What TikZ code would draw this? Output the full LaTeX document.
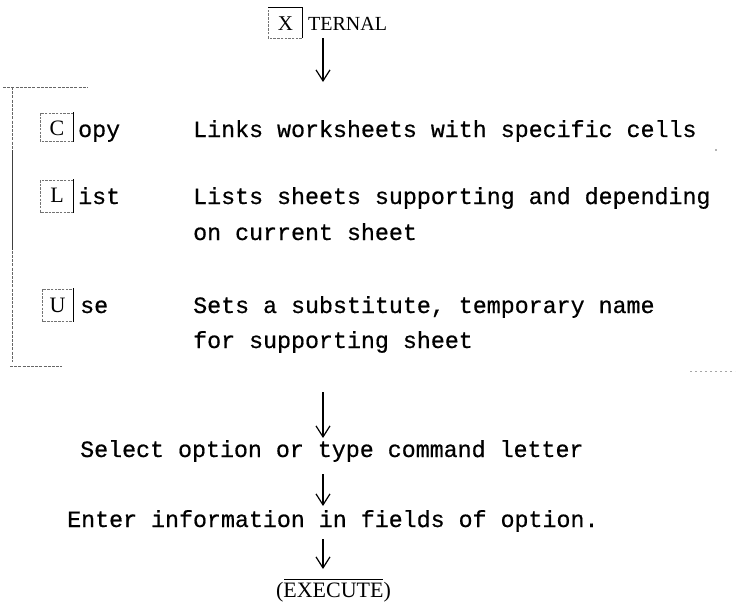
\documentclass[tikz,border=0pt]{standalone}
\usepackage{fontspec}
\setmainfont{Liberation Serif}
\newfontfamily\tw[FakeBold=0.6]{Liberation Mono}
\usetikzlibrary{arrows.meta}

\tikzset{
  mono/.style={inner sep=0pt, anchor=base west, font=\tw\fontsize{23.3}{32}\selectfont},
  keyletter/.style={inner sep=0pt, anchor=base, font=\fontsize{22}{26}\selectfont},
  keyframe/.style={draw=black!55, line width=0.6pt, dash pattern=on 2.5pt off 1.2pt},
  keybar/.style={draw=black, line width=0.9pt},
  bracket/.style={draw=black!60, line width=0.6pt, dash pattern=on 3pt off 1.2pt},
  flow/.style={draw=black, line width=1.1pt, -{Straight Barb[length=11pt,width=14pt,line width=1.2pt]}},
  serifcap/.style={inner sep=0pt, anchor=base, font=\fontsize{22}{26}\selectfont}
}

\begin{document}
\begin{tikzpicture}[x=1pt, y=-1pt]
\useasboundingbox (0,0) rectangle (741,605);

% ---- title key: [X]TERNAL ----
\coordinate (xbl) at (268,38);
\coordinate (xtr) at (302,7);
\draw[keyframe] (xbl) rectangle (xtr);
\draw[keybar] (302,7) -- (302,38) (268,7) -- (302,7);
\node[keyletter, font=\fontsize{21}{24}\selectfont] (xkey) at (285.5,30) {X};
\node[inner sep=0pt, anchor=base west, font=\fontsize{20}{24}\selectfont] (ternal) at (308,30) {TERNAL};

\coordinate (a1s) at (323,38);
\coordinate (a1e) at (323,82);
\draw[flow] (a1s) -- (a1e);

% ---- option group bracket ----
\coordinate (brtop) at (3,87);
\coordinate (brtopr) at (88,87);
\coordinate (brcorner) at (12,87);
\coordinate (brlow) at (12,362);
\coordinate (brbotl) at (10,366);
\coordinate (brbotr) at (62,366);
\draw[bracket] (brtop) -- (brtopr);
\draw[bracket] (brcorner) -- (brlow);
\draw[draw=black!75, line width=0.7pt] (12,150) -- (12,250);
\draw[bracket] (brbotl) -- (brbotr);
\coordinate (rbl) at (690,371);
\coordinate (rbr) at (735,371);
\draw[draw=black!35, line width=0.6pt, dash pattern=on 2pt off 3pt] (rbl) -- (rbr);
\fill[black!60] (716,150) circle (0.9pt);

% ---- Copy ----
\draw[keyframe] (40,113) rectangle (73,141);
\draw[keybar] (73,112) -- (73,142);
\node[keyletter] (kc) at (57,135) {C};
\node[mono] (copy) at (78,137) {opy};
\node[mono] (copyd) at (193,137) {Links worksheets with specific cells};

% ---- List ----
\draw[keyframe] (40,180) rectangle (73,212);
\draw[keybar] (73,179) -- (73,213);
\node[keyletter] (kl) at (57,202) {L};
\node[mono] (list) at (78,204) {ist};
\node[mono] (listd) at (193,204) {Lists sheets supporting and depending};
\node[mono] (listd2) at (193,240) {on current sheet};

% ---- Use ----
\draw[keyframe] (42,289) rectangle (73,321);
\draw[keybar] (73,288) -- (73,322);
\node[keyletter] (ku) at (57.5,312) {U};
\node[mono] (use) at (80,313) {se};
\node[mono] (used) at (193,313) {Sets a substitute, temporary name};
\node[mono] (used2) at (193,348) {for supporting sheet};

% ---- steps ----
\coordinate (a2s) at (323,392);
\coordinate (a2e) at (323,438);
\draw[flow] (a2s) -- (a2e);
\node[mono] (select) at (80,457) {Select option or type command letter};

\coordinate (a3s) at (323,474);
\coordinate (a3e) at (323,506);
\draw[flow] (a3s) -- (a3e);
\node[mono] (enter) at (67,527) {Enter information in fields of option.};

\coordinate (a4s) at (323,539);
\coordinate (a4e) at (323,569);
\draw[flow] (a4s) -- (a4e);
\node[serifcap] (exec) at (333.5,597) {(EXECUTE)};
\draw[line width=0.9pt] (284,579.5) -- (383,579.5);

\end{tikzpicture}
\end{document}
